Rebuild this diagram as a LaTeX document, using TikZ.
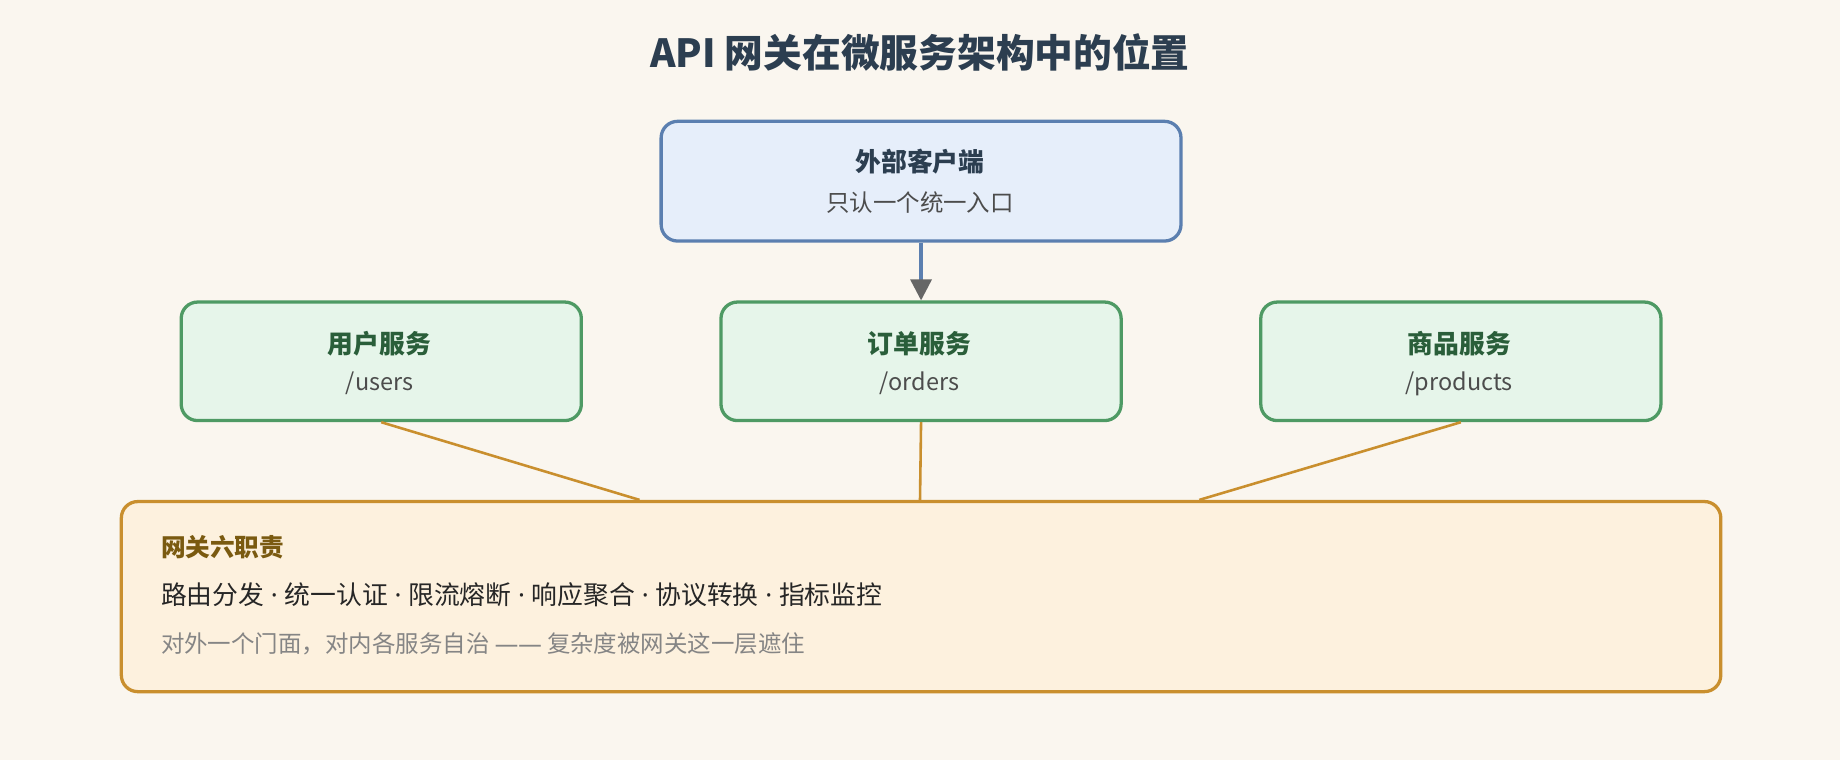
\documentclass[tikz,border=0pt]{standalone}
\usepackage{fontspec}
\setmainfont{Noto Sans CJK SC}
\newfontfamily\lat{Noto Sans}
\newcommand{\mydot}{{\lat\ ·\ }}
\usetikzlibrary{arrows.meta}
\definecolor{bg}{HTML}{FAF6EF}
\definecolor{titc}{HTML}{2C3E50}
\definecolor{cfill}{HTML}{E6EEFA}
\definecolor{cline}{HTML}{5B7FB0}
\definecolor{sfill}{HTML}{E6F5EA}
\definecolor{sline}{HTML}{4E9A64}
\definecolor{stxt}{HTML}{2A5E3A}
\definecolor{gfill}{HTML}{FDF1DE}
\definecolor{gline}{HTML}{C98F2E}
\definecolor{gtxt}{HTML}{7A5A10}
\tikzset{
  box/.style={draw, line width=2.8pt, rounded corners=14pt, anchor=north west, inner sep=0pt},
  bt/.style={font=\fontsize{22}{24}\selectfont\bfseries},
  st/.style={font=\fontsize{20}{22}\selectfont, text=black!70},
  conn/.style={draw=gline, line width=2.2pt},
}
\begin{document}
\begin{tikzpicture}[x=1pt,y=-1pt]
\fill[bg] (0,0) rectangle (1568,648);
\useasboundingbox (0,0) rectangle (1568,648);
\node[font=\fontsize{33}{36}\selectfont\bfseries, text=titc] (title) at (784,45) {API 网关在微服务架构中的位置};
% client
\node[box, fill=cfill, draw=cline, minimum width=443pt, minimum height=102pt] (client) at (562,102) {};
\node[bt, text=titc] (ct) at (784,138) {外部客户端};
\node[st] (cs) at (784,173) {只认一个统一入口};
% services
\foreach \n/\x/\t/\p in {s1/153/用户服务/\slash users, s2/613/订单服务/\slash orders, s3/1073/商品服务/\slash products}{
  \node[box, fill=sfill, draw=sline, minimum width=341pt, minimum height=101pt] (\n) at (\x,256) {};
  \node[bt, text=stxt] (\n t) at (\x+170.5,293) {\t};
  \node[st] (\n p) at (\x+170.5,327) {\p};
}
\draw[cline, line width=2.8pt, -{Triangle[length=18pt,width=18pt,fill=black!60,color=black!60]}] (client.south) -- (s2.north);
% gateway
\node[box, fill=gfill, draw=gline, minimum width=1363pt, minimum height=162pt] (gw) at (102,426) {};
\node[anchor=west, inner sep=0pt, font=\fontsize{21}{24}\selectfont\bfseries, text=gtxt] (g1) at (137,466) {网关六职责};
\node[anchor=west, inner sep=0pt, font=\fontsize{22}{24}\selectfont, text=black!85] (g2) at (137,507) {路由分发\mydot 统一认证\mydot 限流熔断\mydot 响应聚合\mydot 协议转换\mydot 指标监控};
\node[anchor=west, inner sep=0pt, font=\fontsize{20}{22}\selectfont, text=black!48] (g3) at (137,549) {对外一个门面，对内各服务自治 {\lat ——} 复杂度被网关这一层遮住};
\coordinate (ga) at (545,426);
\coordinate (gb) at (784,426);
\coordinate (gc) at (1022,426);
\draw[conn] (s1.south) -- (ga);
\draw[conn] (s2.south) -- (gb);
\draw[conn] (s3.south) -- (gc);
\end{tikzpicture}
\end{document}
